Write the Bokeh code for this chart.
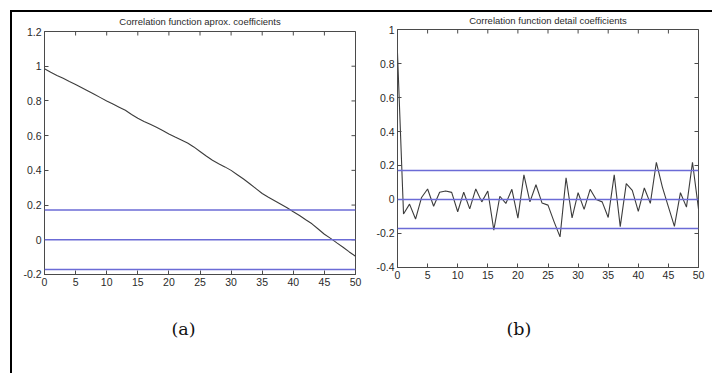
import math
from bokeh.plotting import figure
from bokeh.models import FixedTicker, Span, Range1d, Title, AllLabels
from bokeh.layouts import row
from bokeh.embed import file_html
from bokeh.resources import INLINE

# ---------------- data ----------------
lags = list(range(51))

approx_acf = [0.985, 0.965, 0.947, 0.930, 0.912, 0.895, 0.876, 0.857, 0.838, 0.819,
              0.800, 0.782, 0.764, 0.746, 0.722, 0.700, 0.682, 0.665, 0.648, 0.630,
              0.610, 0.592, 0.575, 0.558, 0.535, 0.509, 0.483, 0.458, 0.438, 0.420,
              0.400, 0.375, 0.350, 0.323, 0.295, 0.267, 0.245, 0.225, 0.205, 0.185,
              0.162, 0.140, 0.115, 0.092, 0.062, 0.032, 0.008, -0.018, -0.043, -0.070,
              -0.095]

detail_acf = [0.860, -0.085, -0.027, -0.115, 0.012, 0.062, -0.040, 0.043, 0.050, 0.042,
              -0.072, 0.043, -0.055, 0.062, -0.014, 0.050, -0.180, 0.019, -0.023, 0.060,
              -0.110, 0.145, -0.014, 0.087, -0.020, -0.033, -0.130, -0.220, 0.128, -0.108,
              0.040, -0.058, 0.060, 0.000, -0.014, -0.106, 0.145, -0.160, 0.093, 0.054,
              -0.070, 0.068, -0.023, 0.219, 0.073, -0.043, -0.158, 0.040, -0.045, 0.219,
              -0.055]

conf_bound = 0.171
bound_levels = [conf_bound, 0.0, -conf_bound]

x_ticks = list(range(0, 51, 5))

yticks_a = [-0.2, 0.0, 0.2, 0.4, 0.6, 0.8, 1.0, 1.2]
ylabels_a = ["-0.2", "0", "0.2", "0.4", "0.6", "0.8", "1", "1.2"]
yticks_b = [-0.4, -0.2, 0.0, 0.2, 0.4, 0.6, 0.8, 1.0]
ylabels_b = ["-0.4", "-0.2", "0", "0.2", "0.4", "0.6", "0.8", "1"]

title_a = "Correlation function aprox. coefficients"
title_b = "Correlation function detail coefficients"
caption_a = "(a)"
caption_b = "(b)"

FONT = "Liberation Sans"
AXIS_COLOR = "#4a4a4a"
TEXT_COLOR = "#2a2a2a"
LINE_COLOR = "#3c3c3c"
BLUE = "#6b6bd6"
EPS = 1e-6


def style_axis(ax, ticks, labels):
    ax.ticker = FixedTicker(ticks=ticks)
    ax.major_label_overrides = {float(t): l for t, l in zip(ticks, labels)}
    ax.major_label_policy = AllLabels()
    ax.major_tick_in = 4
    ax.major_tick_out = 0
    ax.minor_tick_line_color = None
    ax.axis_line_color = AXIS_COLOR
    ax.major_tick_line_color = AXIS_COLOR
    ax.major_label_text_font = FONT
    ax.major_label_text_color = TEXT_COLOR
    ax.major_label_standoff = 3
    ax.major_label_text_font_size = "10.5px"


def make_panel(title, yvals, ylo, yhi, yticks, ylabels, width, height,
               mb_left, mb_right, mb_top, mb_bottom, title_standoff,
               caption, cap_offset, cap_standoff):
    p = figure(width=width, height=height, x_range=Range1d(0, 50),
               y_range=Range1d(ylo - EPS, yhi + EPS), output_backend="svg",
               toolbar_location=None, title=title,
               min_border_left=mb_left, min_border_right=mb_right,
               min_border_top=mb_top, min_border_bottom=mb_bottom)
    p.frame_align = False
    p.title.align = "center"
    p.title.vertical_align = "top"
    p.title.text_font = FONT
    p.title.text_font_style = "normal"
    p.title.text_font_size = "9.5px"
    p.title.text_color = TEXT_COLOR
    p.title.standoff = title_standoff
    p.grid.visible = False
    p.outline_line_color = AXIS_COLOR
    p.background_fill_color = "white"
    p.border_fill_color = "white"

    style_axis(p.xaxis[0], x_ticks, [str(t) for t in x_ticks])
    style_axis(p.yaxis[0], yticks, ylabels)

    # inward ticks on the top and right edges of the box (MATLAB style)
    p.scatter(x_ticks, [yhi] * len(x_ticks), marker="dash", angle=math.pi / 2,
              size=8, line_color=AXIS_COLOR, line_width=1)
    p.scatter([50] * len(yticks), yticks, marker="dash", size=8,
              line_color=AXIS_COLOR, line_width=1)

    for lev in bound_levels:
        p.add_layout(Span(location=lev, dimension="width", line_color=BLUE,
                          line_width=1.5))

    p.line(lags, yvals, line_color=LINE_COLOR, line_width=1.1)

    cap = Title(text=caption, align="left", offset=cap_offset,
                standoff=cap_standoff, text_font="DejaVu Serif",
                text_font_size="17.5px", text_font_style="normal",
                text_color="#111111")
    p.add_layout(cap, "below")
    return p


p1 = make_panel(title_a, approx_acf, -0.2, 1.2, yticks_a, ylabels_a,
                width=353, height=361, mb_left=32, mb_right=10,
                mb_top=19, mb_bottom=99, title_standoff=5,
                caption=caption_a, cap_offset=127, cap_standoff=56)
p2 = make_panel(title_b, detail_acf, -0.4, 1.0, yticks_b, ylabels_b,
                width=347, height=361, mb_left=32, mb_right=14,
                mb_top=17, mb_bottom=106, title_standoff=3,
                caption=caption_b, cap_offset=109, cap_standoff=70)

layout = row(p1, p2, margin=(10, 0, 0, 10),
             styles={"border-top": "2px solid black",
                     "border-left": "2px solid black"})

open("out.html", "w").write(file_html(layout, INLINE))
